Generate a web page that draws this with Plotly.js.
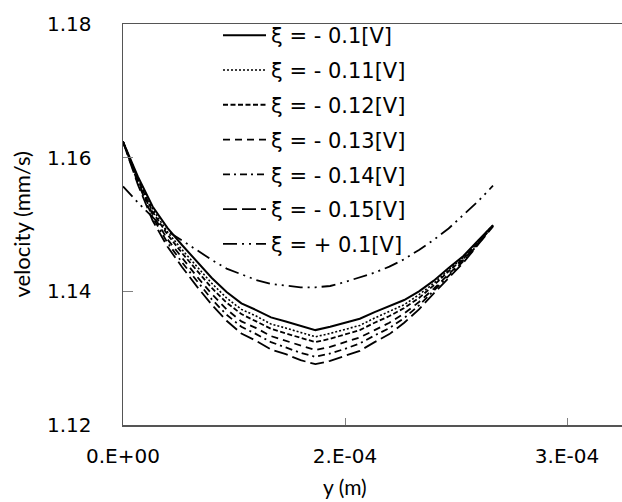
<!DOCTYPE html>
<html>
<head>
<meta charset="utf-8">
<script src="https://cdn.plot.ly/plotly-3.0.1.min.js"></script>
<style>
html, body { margin: 0; padding: 0; overflow: hidden; background: #fff; }
#chart { width: 660px; height: 502px; }
</style>
</head>
<body>
<div id="chart"></div>
<script>
// y position (m)
const yPos = [0, 1e-5, 2e-5, 3e-5, 4e-5, 5e-5, 6e-5, 7e-5, 8e-5, 9e-5,
  1.0e-4, 1.1e-4, 1.2e-4, 1.3e-4, 1.4e-4, 1.5e-4, 1.6e-4, 1.7e-4, 1.8e-4, 1.9e-4,
  2.0e-4, 2.1e-4, 2.2e-4, 2.3e-4, 2.4e-4, 2.5e-4];

// velocity (mm/s) for each zeta potential
const vNeg010 = [1.1624, 1.1572, 1.1527, 1.1495, 1.1469, 1.1444, 1.1420, 1.1399, 1.1382, 1.1372,
  1.1361, 1.1355, 1.1348, 1.1342, 1.1347, 1.1353, 1.1359, 1.1369, 1.1378, 1.1387,
  1.1400, 1.1416, 1.1435, 1.1453, 1.1476, 1.1499];
const vNeg011 = [1.1624, 1.1570, 1.1523, 1.1489, 1.1462, 1.1437, 1.1412, 1.1390, 1.1373, 1.1363,
  1.1351, 1.1345, 1.1338, 1.1332, 1.1337, 1.1343, 1.1349, 1.1360, 1.1370, 1.1380,
  1.1395, 1.1412, 1.1432, 1.1451, 1.1475, 1.1499];
const vNeg012 = [1.1624, 1.1568, 1.1519, 1.1485, 1.1457, 1.1431, 1.1405, 1.1383, 1.1366, 1.1355,
  1.1344, 1.1337, 1.1330, 1.1324, 1.1329, 1.1335, 1.1342, 1.1353, 1.1363, 1.1375,
  1.1390, 1.1409, 1.1430, 1.1449, 1.1474, 1.1498];
const vNeg013 = [1.1624, 1.1565, 1.1515, 1.1478, 1.1450, 1.1422, 1.1396, 1.1373, 1.1355, 1.1345,
  1.1333, 1.1326, 1.1318, 1.1312, 1.1317, 1.1324, 1.1331, 1.1342, 1.1353, 1.1367,
  1.1384, 1.1404, 1.1426, 1.1447, 1.1472, 1.1498];
const vNeg014 = [1.1624, 1.1563, 1.1511, 1.1473, 1.1443, 1.1415, 1.1388, 1.1365, 1.1347, 1.1336,
  1.1324, 1.1316, 1.1308, 1.1302, 1.1307, 1.1314, 1.1322, 1.1334, 1.1345, 1.1360,
  1.1379, 1.1401, 1.1423, 1.1445, 1.1471, 1.1498];
const vNeg015 = [1.1624, 1.1560, 1.1506, 1.1467, 1.1436, 1.1407, 1.1380, 1.1356, 1.1337, 1.1326,
  1.1313, 1.1306, 1.1297, 1.1291, 1.1296, 1.1304, 1.1311, 1.1324, 1.1336, 1.1353,
  1.1373, 1.1397, 1.1420, 1.1443, 1.1470, 1.1497];
const vPos010 = [1.1557, 1.1533, 1.1511, 1.1490, 1.1476, 1.1461, 1.1447, 1.1434, 1.1425, 1.1417,
  1.1411, 1.1408, 1.1406, 1.1406, 1.1408, 1.1414, 1.1421, 1.1428, 1.1437, 1.1448,
  1.1462, 1.1477, 1.1494, 1.1514, 1.1535, 1.1558];

const seriesNames = ['ξ = - 0.1[V]', 'ξ = - 0.11[V]', 'ξ = - 0.12[V]', 'ξ = - 0.13[V]',
  'ξ = - 0.14[V]', 'ξ = - 0.15[V]', 'ξ = + 0.1[V]'];
const seriesValues = [vNeg010, vNeg011, vNeg012, vNeg013, vNeg014, vNeg015, vPos010];

const xTickVals = [0, 1.5e-4, 3e-4];
const xTickText = ['0.E+00', '2.E-04', '3.E-04'];
const yTickVals = [1.12, 1.14, 1.16, 1.18];
const yTickText = ['1.12', '1.14', '1.16', '1.18'];

const dashes = ['solid', '2px,2px', '5px,2.5px', '7px,5px', '7px,4px,2px,4px', '14px,5px', '14px,5px,2px,5px,2px,5px'];
const widths = [2, 1.6, 1.8, 1.8, 1.8, 1.8, 1.8];

const traces = seriesValues.map((vals, i) => ({
  type: 'scatter',
  mode: 'lines',
  x: yPos,
  y: vals,
  name: seriesNames[i],
  legendgroup: 'g' + i,
  line: { color: '#000', width: widths[i], dash: dashes[i] }
}));

const layout = {
  width: 660,
  height: 502,
  margin: { l: 123, r: 19, t: 24, b: 77 },
  paper_bgcolor: '#fff',
  plot_bgcolor: '#fff',
  showlegend: true,
  font: { family: 'DejaVu Sans, Verdana, sans-serif', color: '#000' },
  xaxis: {
    range: [0, 3.5e-4],
    tickvals: xTickVals,
    ticktext: xTickText,
    ticks: 'inside',
    ticklen: 7,
    tickcolor: '#808080',
    tickwidth: 1,
    showgrid: false,
    zeroline: false,
    showline: true,
    linecolor: '#555',
    linewidth: 1.5,
    mirror: true,
    ticklabelstandoff: 12,
    tickfont: { family: 'DejaVu Sans, Verdana, sans-serif', size: 20, color: '#000' }
  },
  yaxis: {
    range: [1.12, 1.18],
    tickvals: yTickVals,
    ticktext: yTickText,
    ticks: 'inside',
    ticklen: 10,
    tickcolor: '#808080',
    tickwidth: 1,
    showgrid: false,
    zeroline: false,
    showline: true,
    linecolor: '#555',
    linewidth: 1.5,
    mirror: true,
    ticklabelstandoff: 26,
    tickfont: { family: 'DejaVu Sans, Verdana, sans-serif', size: 20, color: '#000' }
  },
  legend: {
    x: (218 - 123) / 518,
    xanchor: 'left',
    y: 1 + 9 / 401,
    yanchor: 'top',
    bgcolor: 'rgba(0,0,0,0)',
    borderwidth: 0,
    tracegroupgap: 4.5,
    itemwidth: 43,
    font: { family: 'DejaVu Sans, Verdana, sans-serif', size: 21, color: '#000' }
  },
  annotations: [
    {
      text: 'y (m)',
      xref: 'x', yref: 'paper',
      x: 1.5e-4, y: (425 - 486) / 401,
      xanchor: 'center', yanchor: 'middle',
      showarrow: false,
      font: { family: 'Lato, Open Sans, sans-serif', size: 21, color: '#000' }
    },
    {
      text: 'velocity (mm/s)',
      xref: 'paper', yref: 'paper',
      x: (21 - 123) / 518, y: 0.5,
      xanchor: 'center', yanchor: 'middle',
      textangle: -90,
      showarrow: false,
      font: { family: 'Lato, Open Sans, sans-serif', size: 22, color: '#000' }
    }
  ]
};

Plotly.newPlot('chart', traces, layout, { displayModeBar: false, staticPlot: true });
</script>
</body>
</html>
